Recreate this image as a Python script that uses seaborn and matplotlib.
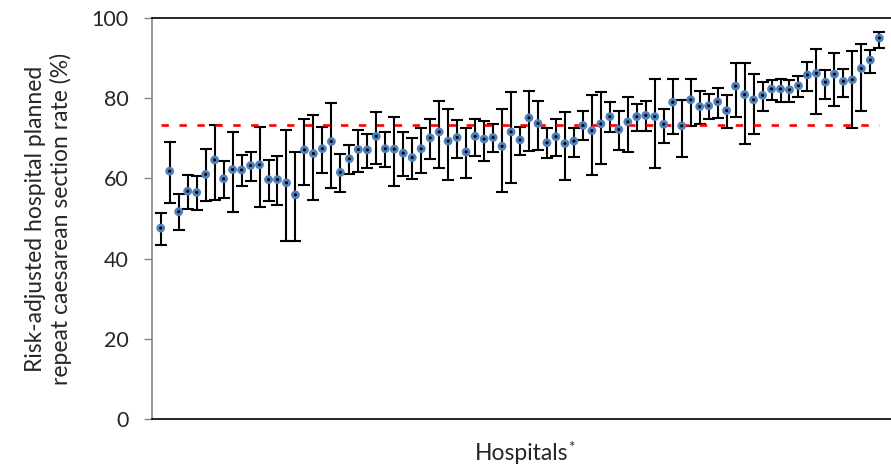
import numpy as np
import pandas as pd
import matplotlib
matplotlib.use("Agg")
import matplotlib.pyplot as plt
import seaborn as sns

# Risk-adjusted rates (%) per hospital, with 95% CI bounds
rate = [47.6, 61.8, 51.7, 56.8, 56.5, 61.0, 64.6, 59.9, 62.2, 62.1,
        63.2, 63.4, 59.7, 59.7, 58.9, 55.9, 67.1, 66.2, 67.4, 69.2,
        61.5, 64.9, 67.2, 67.1, 70.5, 67.4, 67.3, 66.3, 65.2, 67.4,
        70.1, 71.6, 69.3, 70.2, 66.6, 70.5, 69.8, 70.2, 68.0, 71.6,
        69.6, 75.1, 73.7, 68.9, 70.4, 68.7, 69.3, 73.2, 71.9, 73.6,
        75.4, 72.2, 74.1, 75.4, 75.7, 75.4, 73.5, 79.0, 73.1, 79.6,
        77.9, 78.1, 79.1, 76.9, 83.0, 80.9, 79.6, 80.7, 82.3, 82.3,
        82.1, 83.1, 85.8, 86.2, 84.0, 86.0, 84.2, 84.6, 87.4, 89.5,
        95.0]
upper = [51.4, 69.0, 56.0, 60.9, 60.6, 67.3, 73.3, 64.3, 71.6, 65.8,
         66.5, 72.9, 64.7, 65.5, 72.1, 66.5, 74.8, 75.8, 72.7, 78.8,
         66.0, 68.3, 72.1, 71.1, 76.6, 71.6, 75.3, 71.6, 70.1, 72.6,
         74.8, 79.3, 77.4, 74.6, 72.5, 74.7, 74.4, 73.5, 77.3, 81.5,
         72.9, 81.8, 79.3, 72.5, 74.8, 76.6, 72.6, 76.7, 80.7, 81.5,
         79.0, 76.8, 80.2, 78.6, 79.3, 84.8, 77.3, 84.9, 79.5, 84.7,
         81.8, 81.0, 82.5, 80.7, 88.7, 88.9, 86.1, 84.0, 84.5, 84.8,
         84.5, 85.6, 89.0, 92.2, 87.0, 91.3, 87.3, 91.8, 93.4, 92.0,
         96.6]
lower = [43.5, 53.9, 47.2, 52.3, 52.2, 54.3, 54.7, 55.1, 51.6, 58.1,
         59.4, 52.9, 54.4, 53.4, 44.5, 44.5, 58.4, 54.7, 61.3, 57.6,
         56.7, 61.1, 61.5, 62.5, 63.6, 62.8, 58.0, 60.7, 59.9, 61.4,
         64.8, 62.5, 59.7, 65.2, 60.0, 65.7, 64.3, 66.6, 56.7, 58.8,
         65.9, 66.8, 67.1, 65.2, 65.5, 59.7, 65.3, 69.5, 60.9, 63.7,
         71.5, 67.2, 66.6, 71.8, 71.8, 62.7, 68.9, 71.1, 65.3, 73.0,
         73.5, 74.8, 75.1, 72.6, 75.4, 68.6, 71.0, 76.8, 79.6, 79.1,
         79.1, 80.4, 81.8, 76.1, 79.9, 78.1, 80.4, 72.6, 76.7, 86.2,
         92.4]
overall_rate = 73.4
y_ticks = [0, 20, 40, 60, 80, 100]

df = pd.DataFrame({"hospital": np.arange(len(rate)), "rate": rate,
                   "lower": lower, "upper": upper})

sns.set_style("white")
plt.rcParams["font.family"] = ["Lato", "DejaVu Sans"]

fig = plt.figure(figsize=(8.91, 4.76), dpi=100)
ax = fig.add_axes([152 / 891, 1 - 419 / 476, (891 - 152) / 891, (419 - 18) / 476])

yerr = np.vstack([df["rate"] - df["lower"], df["upper"] - df["rate"]])
ax.errorbar(df["hospital"], df["rate"], yerr=yerr, fmt="none", ecolor="black",
            elinewidth=1.5, capsize=4.3, capthick=1.5, zorder=2)

x0, x1 = df["hospital"].min(), df["hospital"].max()
sns.lineplot(x=[x0, x1], y=[overall_rate, overall_rate], ax=ax, color="#FF0000",
             linewidth=1.9, zorder=3, dashes=False)
ax.lines[-1].set_dashes((2.8, 4.0))

sns.scatterplot(data=df, x="hospital", y="rate", ax=ax, s=40, color="#4F81BD",
                edgecolor="none", zorder=4)
sns.scatterplot(data=df, x="hospital", y="rate", ax=ax, s=5, color="black",
                edgecolor="none", zorder=5)

ax.set_xlim(-0.97, 81.3)
ax.set_ylim(0, 100)
ax.set_yticks(y_ticks)
ax.set_yticklabels([str(t) for t in y_ticks], fontsize=15.5)
ax.set_xticks([])
ax.tick_params(axis="y", direction="out", length=6, width=1, color="#868686",
               left=True, pad=11)

ax.spines["left"].set_color("#868686")
ax.spines["left"].set_linewidth(1.2)
for side in ["top", "bottom"]:
    ax.spines[side].set_color("black")
    ax.spines[side].set_linewidth(1.2)
ax.spines["right"].set_visible(False)

ax.set_ylabel("Risk-adjusted hospital planned\nrepeat caesarean section rate (%)",
              fontsize=16.5, labelpad=14, linespacing=1.2)
ax.set_xlabel("Hospitals", fontsize=16.5, labelpad=17)
ax.annotate("*", xy=(1, 1), xycoords=ax.xaxis.label, fontsize=11,
            ha="left", va="top", xytext=(0, 1), textcoords="offset points")

fig.savefig("out.png", dpi=100)
